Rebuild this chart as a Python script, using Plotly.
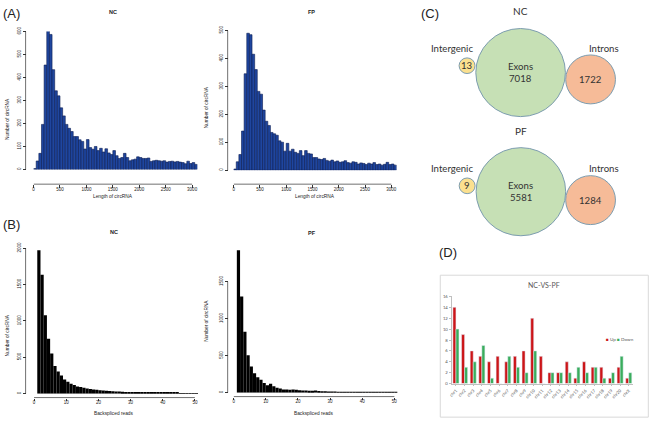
import numpy as np
import plotly.graph_objects as go

W, H = 650, 427

# ---------------- data ----------------
len_bin_width = 50
nc_length_counts = [4, 37, 70, 196, 454, 608, 587, 434, 342, 320, 268, 233, 196, 179, 165, 143,
                    143, 129, 122, 89, 130, 95, 88, 100, 82, 92, 76, 90, 72, 65, 82, 60,
                    48, 52, 70, 52, 38, 42, 45, 55, 52, 48, 48, 50, 35, 38, 40, 38,
                    36, 38, 32, 35, 36, 33, 35, 32, 30, 25, 36, 26, 30, 22]
fp_length_counts = [4, 30, 56, 140, 345, 490, 485, 415, 360, 282, 272, 215, 175, 160, 135, 130,
                    125, 105, 100, 68, 96, 68, 75, 64, 60, 70, 52, 70, 60, 58, 45, 45,
                    40, 38, 42, 35, 32, 36, 30, 33, 28, 30, 34, 27, 25, 30, 28, 22,
                    26, 24, 20, 25, 22, 27, 20, 22, 18, 21, 28, 20, 22, 18]
nc_reads_counts = [1969, 1632, 1076, 753, 552, 381, 305, 251, 193, 165, 135, 120, 100, 90, 80, 72,
                   65, 58, 52, 48, 45, 40, 35, 33, 30, 28, 25, 24, 22, 20, 18, 17,
                   16, 15, 14, 13, 12, 11, 10, 10, 9, 9, 8, 8, 7, 7, 6, 6, 5, 5]
pf_reads_counts = [1925, 1300, 824, 507, 352, 264, 207, 176, 132, 101, 119, 88, 66, 57, 44, 44,
                   40, 44, 38, 33, 30, 28, 26, 25, 30, 22, 20, 18, 17, 16, 15, 14,
                   13, 12, 12, 11, 10, 10, 9, 9, 8, 8, 7, 7, 6, 6, 6, 5, 5, 5]
reads_start = 1

venn_groups = ["NC", "PF"]
venn_exons = [7018, 5581]
venn_introns = [1722, 1284]
venn_intergenic = [13, 9]

chroms = ["chr1", "chr2", "chr3", "chr4", "chr5", "chr6", "chr7", "chr8", "chr9", "chr10",
          "chr11", "chr12", "chr13", "chr14", "chr15", "chr16", "chr17", "chr18", "chr19",
          "chr20", "chrX"]
up_counts = [14, 9, 6, 5, 4, 5, 4, 5, 6, 12, 5, 2, 2, 4, 1, 4, 3, 3, 1, 3, 1]
down_counts = [10, 3, 4, 7, 1, 0, 5, 3, 2, 6, 0, 2, 2, 2, 3, 2, 3, 1, 2, 5, 2]

len_ticks = [0, 500, 1000, 1500, 2000, 2500, 3000]
reads_ticks = [0, 10, 20, 30, 40, 50]


def px(x):
    return x / W


def py(y):
    return 1 - y / H


fig = go.Figure()

# ---------------- panel A / B histograms ----------------
len_centers = np.arange(len(nc_length_counts)) * len_bin_width + len_bin_width / 2
reads_centers = np.arange(len(nc_reads_counts)) + reads_start + 0.5

blue = "#1f469f"
blue_edge = "#0c1c52"

fig.add_trace(go.Bar(x=len_centers, y=nc_length_counts, width=len_bin_width,
                     marker=dict(color=blue, line=dict(color=blue_edge, width=0.6)),
                     xaxis="x", yaxis="y", cliponaxis=False, showlegend=False))
fig.add_trace(go.Bar(x=len_centers, y=fp_length_counts, width=len_bin_width,
                     marker=dict(color=blue, line=dict(color=blue_edge, width=0.6)),
                     xaxis="x2", yaxis="y2", cliponaxis=False, showlegend=False))
fig.add_trace(go.Bar(x=reads_centers, y=nc_reads_counts, width=1,
                     marker=dict(color="black", line=dict(width=0)),
                     xaxis="x3", yaxis="y3", cliponaxis=False, showlegend=False))
fig.add_trace(go.Bar(x=reads_centers, y=pf_reads_counts, width=1,
                     marker=dict(color="black", line=dict(width=0)),
                     xaxis="x4", yaxis="y4", cliponaxis=False, showlegend=False))

# ---------------- panel D ----------------
fig.add_trace(go.Bar(x=chroms, y=up_counts, name="Up", marker=dict(color="#cc1518"),
                     xaxis="x5", yaxis="y5", showlegend=False))
fig.add_trace(go.Bar(x=chroms, y=down_counts, name="Down", marker=dict(color="#3aad5c"),
                     xaxis="x5", yaxis="y5", showlegend=False))

tickfont = dict(size=4.5, color="#222", family="Liberation Sans")
axcol = "#333"


def hist_axes(x0, x1, xr, xticks, xpos, y0, y1, yr, yticks, ypos):
    xa = dict(domain=[px(x0), px(x1)], range=xr, tickvals=xticks, anchor="free",
              position=py(xpos), showline=False, showgrid=False, zeroline=False,
              ticks="outside", ticklen=2.5, tickwidth=0.7, tickcolor=axcol,
              ticklabelstandoff=-2,
              tickfont=tickfont, fixedrange=True)
    ya = dict(domain=[py(y0), py(y1)], range=yr, tickvals=yticks, anchor="free",
              position=px(ypos), showline=False, showgrid=False, zeroline=False,
              ticks="outside", ticklen=2.5, tickwidth=0.7, tickcolor=axcol,
              tickfont=tickfont, tickangle=-90, fixedrange=True)
    return xa, ya


xa1, ya1 = hist_axes(30.7, 195.3, [0, 3100], len_ticks, 182, 167, 26, [0, 600],
                     [0, 100, 200, 300, 400, 500, 600], 22.7)
xa2, ya2 = hist_axes(231.7, 395.4, [0, 3100], len_ticks, 182, 167.7, 25, [0, 500],
                     [0, 100, 200, 300, 400, 500], 225.7)
xa3, ya3 = hist_axes(31.2, 196, [0, 51], reads_ticks, 400, 396, 247.3, [0, 2000],
                     [0, 500, 1000, 1500, 2000], 22.7)
xa4, ya4 = hist_axes(231.7, 396.4, [0, 51], reads_ticks, 399, 395, 243.8, [0, 2000],
                     [0, 500, 1000, 1500], 225.7)

shapes = []


def axis_lines(xref, yref, xmax, ymax, xpos, ypos):
    shapes.append(dict(type="line", xref=xref, yref="paper", x0=0, x1=xmax,
                       y0=py(xpos), y1=py(xpos), line=dict(color=axcol, width=0.7)))
    shapes.append(dict(type="line", xref="paper", yref=yref, x0=px(ypos), x1=px(ypos),
                       y0=0, y1=ymax, line=dict(color=axcol, width=0.7)))


axis_lines("x", "y", 3000, 600, 182, 22.7)
axis_lines("x2", "y2", 3000, 500, 182, 225.7)
axis_lines("x3", "y3", 50, 2000, 400, 22.7)
axis_lines("x4", "y4", 50, 1500, 399, 225.7)

annotations = []


def txt(x, y, s, size, color="#222", family="Liberation Sans", angle=0, bold=False):
    if bold:
        s = "<b>" + s + "</b>"
    annotations.append(dict(x=px(x), y=py(y), xref="paper", yref="paper", text=s,
                            showarrow=False, xanchor="center", yanchor="middle",
                            textangle=angle, font=dict(size=size, color=color, family=family)))


# panel labels
txt(9, 8, "(A)", 13)
txt(9, 223, "(B)", 13)
txt(429, 8, "(C)", 13)
txt(447, 252, "(D)", 13)

# hist titles
txt(111, 6, "NC", 5.5, bold=True)
txt(310, 6, "FP", 5.5, bold=True)
txt(112, 231, "NC", 5.5, bold=True)
txt(310, 232, "PF", 5.5, bold=True)
for (xx, yy) in [(4.5, 115), (204.5, 104), (4.5, 336), (204.5, 322)]:
    txt(xx, yy, "Number of circRNA", 4.8, angle=-90)
txt(111, 195, "Length of circRNA", 4.8)
txt(313, 195, "Length of circRNA", 4.8)
txt(112, 416, "Backspliced reads", 4.8)
txt(312, 416, "Backspliced reads", 4.8)

# ---------------- panel C (circles) ----------------
venn_font = "Lato"
edge = "#7d9db0"
layout_c = [
    dict(title_y=5, ex=(520, 68, 45), intr=(590.3, 75, 25), ig=(466.2, 61, 8), lab_y=43.3),
    dict(title_y=127.5, ex=(520.3, 189.7, 45), intr=(590.3, 198.3, 25), ig=(466.3, 183.7, 8), lab_y=165.7),
]
for i, g in enumerate(venn_groups):
    L = layout_c[i]
    for (cx, cy, r), fill in [(L["ex"], "#c6e0b5"), (L["intr"], "#f6bb98"), (L["ig"], "#fbe08f")]:
        shapes.append(dict(type="circle", xref="paper", yref="paper",
                           x0=px(cx - r), x1=px(cx + r), y0=py(cy + r), y1=py(cy - r),
                           fillcolor=fill, line=dict(color=edge, width=1), layer="above"))
    txt(520, L["title_y"], g, 10, color="#333", family=venn_font)
    txt(450.7, L["lab_y"], "Intergenic", 9.6, color="#333", family=venn_font)
    txt(603.3, L["lab_y"], "Introns", 9.6, color="#333", family=venn_font)
    txt(L["ex"][0], L["ex"][1] - 6, "Exons", 9.6, color="#333", family=venn_font)
    txt(L["ex"][0], L["ex"][1] + 6, str(venn_exons[i]), 9.6, color="#333", family=venn_font)
    txt(L["intr"][0], L["intr"][1], str(venn_introns[i]), 9.6, color="#333", family=venn_font)
    txt(L["ig"][0], L["ig"][1], str(venn_intergenic[i]), 9.6, color="#333", family=venn_font)

# ---------------- panel D frame / title / legend ----------------
shapes.append(dict(type="rect", xref="paper", yref="paper", x0=px(439.3), x1=px(648.3),
                   y0=py(420), y1=py(275), line=dict(color="#d9d9d9", width=1), layer="below"))
txt(544, 284.5, "NC-VS-PF", 7, color="#595959", family=venn_font)
annotations.append(dict(x=px(619.5), y=py(340), xref="paper", yref="paper", showarrow=False,
                        xanchor="center", yanchor="middle",
                        text="<span style='color:#cc1518'>■</span> Up <span style='color:#3aad5c'>■</span> Down",
                        font=dict(size=4.6, color="#595959", family=venn_font)))

dfont = dict(size=4.3, color="#595959", family=venn_font)
xa5 = dict(domain=[px(450.7), px(633)], anchor="y5", type="category", showline=True,
           linecolor="#bfbfbf", linewidth=0.8, ticks="outside", ticklen=2, tickcolor="#bfbfbf",
           tickangle=-45, tickfont=dfont, showgrid=False, zeroline=False, fixedrange=True)
ya5 = dict(domain=[py(385.7), py(296.7)], anchor="x5", range=[0, 16], dtick=2, showline=True,
           linecolor="#bfbfbf", linewidth=0.8, ticks="outside", ticklen=2, tickcolor="#bfbfbf",
           tickfont=dfont, showgrid=False, zeroline=False, fixedrange=True)

fig.update_layout(
    width=W, height=H, margin=dict(l=0, r=0, t=0, b=0),
    paper_bgcolor="white", plot_bgcolor="rgba(0,0,0,0)",
    font=dict(family="Liberation Sans"),
    barmode="group", bargap=0.3, bargroupgap=0,
    xaxis=xa1, yaxis=ya1, xaxis2=xa2, yaxis2=ya2, xaxis3=xa3, yaxis3=ya3,
    xaxis4=xa4, yaxis4=ya4, xaxis5=xa5, yaxis5=ya5,
    shapes=shapes, annotations=annotations, showlegend=False,
)

fig.write_html("out.html", config={"displayModeBar": False},
               post_script="document.body.style.margin='0';document.body.style.padding='0';")
